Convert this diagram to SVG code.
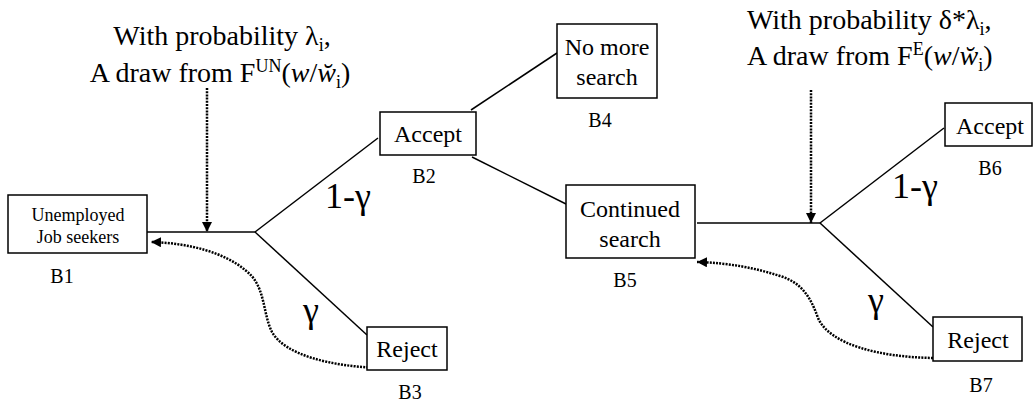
<svg xmlns="http://www.w3.org/2000/svg" width="1035" height="403" viewBox="0 0 1035 403">
  <style>
    .box { fill: #fff; stroke: #000; stroke-width: 1.5; }
    text { font-family: 'Liberation Serif', 'DejaVu Serif', serif; fill: #000; }
    .boxtext { font-size: 24px; text-anchor: middle; }
    .small { font-size: 18px; text-anchor: middle; }
    .lbl { font-size: 20px; text-anchor: middle; }
    .prob { font-size: 28px; }
    .sub { font-size: 18px; }
    .greek { font-size: 36px; }
    .line { fill: none; stroke: #000; stroke-width: 1.5; }
    .dot { fill: none; stroke: #000; stroke-width: 2.5; stroke-dasharray: 2 1.2; }
  </style>
  <defs>
    <marker id="arrow" viewBox="0 0 10 10" refX="10" refY="5" markerWidth="10" markerHeight="10" markerUnits="userSpaceOnUse" orient="auto">
      <path d="M0,0 L10,5 L0,10 z" fill="#000"/>
    </marker>
  </defs>
  <rect width="1035" height="403" fill="#fff"/>

  <!-- connectors -->
  <g id="connectors">
    <path class="line" d="M147,232 H255"/>
    <path class="line" d="M255,232 L378,138"/>
    <path class="line" d="M255,232 L367,335"/>
    <path class="line" d="M471,110 L557,53"/>
    <path class="line" d="M472,157 L566,204"/>
    <path class="line" d="M697,223 H820"/>
    <path class="line" d="M820,223 L944,128"/>
    <path class="line" d="M820,223 L933,327"/>
    <!-- incoming offers -->
    <path class="dot" d="M207,88 V232" marker-end="url(#arrow)"/>
    <path class="dot" d="M811,90 V223" marker-end="url(#arrow)"/>
    <!-- rejected offers return -->
    <path class="dot" d="M378,368 C330,366 285,355 272,332 C262,312 266,285 245,270 C225,253 190,243 151,242" marker-end="url(#arrow)"/>
    <path class="dot" d="M933,358 C880,357 830,345 818,318 C810,295 800,282 780,276 C755,268 730,263 697,262" marker-end="url(#arrow)"/>
  </g>

  <!-- branch probabilities -->
  <g id="branch-labels">
    <text class="greek" x="325" y="208">1-γ</text>
    <text class="greek" x="303" y="322">γ</text>
    <text class="greek" x="892" y="198">1-γ</text>
    <text class="greek" x="868" y="312">γ</text>
  </g>

  <!-- offer arrival rates -->
  <g id="offer-unemployed" text-anchor="middle">
    <text class="prob" x="222" y="45">With probability λ<tspan class="sub" dy="6">i</tspan><tspan dy="-6">,</tspan></text>
    <text class="prob" x="220" y="82">A draw from F<tspan class="sub" dy="-10">UN</tspan><tspan dy="10">(</tspan><tspan font-style="italic">w</tspan>/<tspan font-style="italic">w̆</tspan><tspan class="sub" dy="6">i</tspan><tspan dy="-6">)</tspan></text>
  </g>
  <g id="offer-employed">
    <text class="prob" x="747" y="29">With probability δ*λ<tspan class="sub" dy="6">i</tspan><tspan dy="-6">,</tspan></text>
    <text class="prob" x="747" y="65">A draw from F<tspan class="sub" dy="-10">E</tspan><tspan dy="10">(</tspan><tspan font-style="italic">w</tspan>/<tspan font-style="italic">w̆</tspan><tspan class="sub" dy="6">i</tspan><tspan dy="-6">)</tspan></text>
  </g>

  <!-- nodes -->
  <g id="B1">
    <rect class="box" x="8" y="195" width="139" height="58"/>
    <text class="small" x="78" y="221">Unemployed</text>
    <text class="small" x="78" y="243">Job seekers</text>
    <text class="lbl" x="62" y="283">B1</text>
  </g>
  <g id="B2">
    <rect class="box" x="380" y="112" width="96" height="43"/>
    <text class="boxtext" x="428" y="142">Accept</text>
    <text class="lbl" x="424" y="183">B2</text>
  </g>
  <g id="B3">
    <rect class="box" x="367" y="327" width="80" height="43"/>
    <text class="boxtext" x="407" y="357">Reject</text>
    <text class="lbl" x="410" y="399">B3</text>
  </g>
  <g id="B4">
    <rect class="box" x="557" y="24" width="100" height="74"/>
    <text class="boxtext" x="607" y="55">No more</text>
    <text class="boxtext" x="607" y="85">search</text>
    <text class="lbl" x="600" y="127">B4</text>
  </g>
  <g id="B5">
    <rect class="box" x="566" y="185" width="129" height="73"/>
    <text class="boxtext" x="630" y="217">Continued</text>
    <text class="boxtext" x="630" y="247">search</text>
    <text class="lbl" x="625" y="287">B5</text>
  </g>
  <g id="B6">
    <rect class="box" x="945" y="103" width="87" height="43"/>
    <text class="boxtext" x="990" y="134">Accept</text>
    <text class="lbl" x="990" y="175">B6</text>
  </g>
  <g id="B7">
    <rect class="box" x="933" y="317" width="89" height="44"/>
    <text class="boxtext" x="978" y="348">Reject</text>
    <text class="lbl" x="981" y="392">B7</text>
  </g>
</svg>
